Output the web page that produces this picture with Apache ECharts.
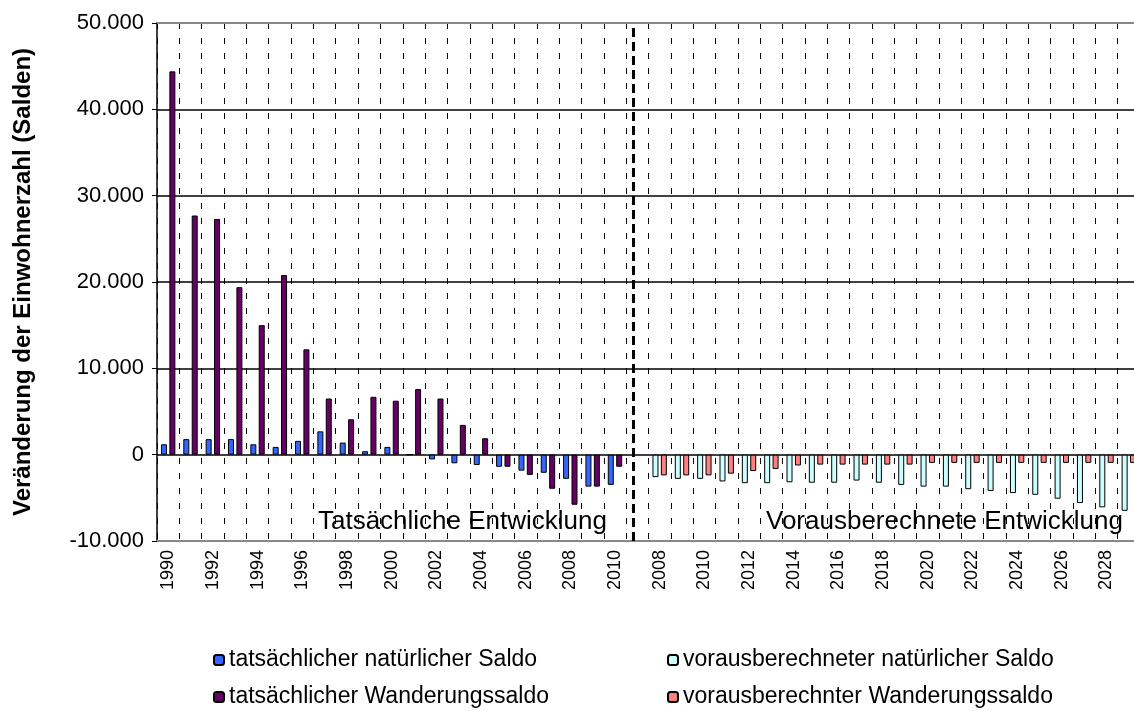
<!DOCTYPE html>
<html>
<head>
<meta charset="utf-8">
<script src="https://cdn.jsdelivr.net/npm/echarts@6/dist/echarts.min.js"></script>
<style>html,body{margin:0;padding:0;background:#fff}#c{width:1134px;height:711px}</style>
</head>
<body>
<div id="c"></div>
<script>
// ---- data ----
const actualYears = ['1990','1991','1992','1993','1994','1995','1996','1997','1998','1999','2000','2001','2002','2003','2004','2005','2006','2007','2008','2009','2010'];
const projYears = ['2008','2009','2010','2011','2012','2013','2014','2015','2016','2017','2018','2019','2020','2021','2022','2023','2024','2025','2026','2027','2028','2029'];
const natActual = [1200,1800,1800,1800,1200,900,1600,2700,1400,400,900,0,-550,-1000,-1200,-1400,-1850,-2100,-2800,-3700,-3500];
const wanActual = [44400,27700,27300,19400,15000,20800,12200,6500,4100,6700,6250,7600,6500,3450,1900,-1400,-2350,-3950,-5800,-3700,-1400];
const natProj = [-2600,-2800,-2800,-3100,-3300,-3300,-3200,-3250,-3250,-3000,-3250,-3500,-3700,-3700,-4000,-4200,-4450,-4650,-5100,-5600,-6100,-6500];
const wanProj = [-2400,-2400,-2400,-2200,-1900,-1650,-1250,-1150,-1150,-1150,-1150,-1150,-950,-950,-950,-950,-950,-950,-950,-950,-950,-950];
const seriesNames = ['tatsächlicher natürlicher Saldo','tatsächlicher Wanderungssaldo','vorausberechneter natürlicher Saldo','vorausberechnter Wanderungssaldo'];
const yAxisTitle = 'Veränderung der Einwohnerzahl (Salden)';
const sectionLabels = ['Tatsächliche Entwicklung','Vorausberechnete Entwicklung'];

// ---- build ----
const categories = [...actualYears, '', ...projYears];
const nulls = n => new Array(n).fill(null);
const natA = [...natActual, null, ...nulls(projYears.length)];
const wanA = [...wanActual, null, ...nulls(projYears.length)];
const natP = [...nulls(actualYears.length), null, ...natProj];
const wanP = [...nulls(actualYears.length), null, ...wanProj];
const sepIndex = actualYears.length;

const FONT = '"Liberation Sans", Arial, sans-serif';
const colors = ['#3366FF','#660066','#CCFFFF','#FF8080'];
function fmt(v){
  const s = String(Math.abs(v)).replace(/\B(?=(\d{3})+(?!\d))/g,'.');
  return (v < 0 ? '-' : '') + s;
}
function bar(name, data, stack, color){
  return {
    name, type:'bar', data, stack, barWidth:6, barGap:'40%',
    itemStyle:{color, borderColor:'#000', borderWidth:1},
    emphasis:{disabled:true}, animation:false
  };
}
function leg(name, left, top){
  return {
    data:[name], orient:'horizontal', left, top, padding:0,
    itemWidth:10, itemHeight:10, itemGap:0, selectedMode:false,
    textStyle:{fontSize:23, color:'#000', fontFamily:FONT, lineHeight:24}
  };
}
const chart = echarts.init(document.getElementById('c'));
const series = [
  bar(seriesNames[0], natA, 'nat', colors[0]),
  bar(seriesNames[1], wanA, 'wan', colors[1]),
  bar(seriesNames[2], natP, 'nat', colors[2]),
  bar(seriesNames[3], wanP, 'wan', colors[3])
];
series[0].markLine = {
  silent:true, symbol:['none','none'], label:{show:false},
  lineStyle:{color:'#000', width:3, type:[9,5]},
  data:[{xAxis: sepIndex}], animation:false
};
chart.setOption({
  animation:false,
  backgroundColor:'#fff',
  textStyle:{fontFamily:FONT},
  grid:{left:157, top:23, width:983, bottom:170, containLabel:false, outerBoundsMode:'none'},
  xAxis:[{
    type:'category', data:categories, position:'bottom',
    axisLine:{onZero:false, lineStyle:{color:'#888', width:2}},
    axisTick:{show:false},
    axisLabel:{interval:1, rotate:90, color:'#000', fontSize:18, fontFamily:FONT, margin:9},
    splitLine:{show:true, interval:0, lineStyle:{color:'#000', width:1, type:[6,9]}}
  },{
    type:'category', data:categories, position:'top',
    axisLine:{onZero:false, lineStyle:{color:'#888', width:2}},
    axisTick:{show:false}, axisLabel:{show:false}, splitLine:{show:false}
  }],
  yAxis:{
    type:'value', min:-10000, max:50000, interval:10000,
    name:yAxisTitle, nameLocation:'middle', nameGap:122,
    nameTextStyle:{fontSize:24, fontWeight:'bold', color:'#000', fontFamily:FONT},
    axisLine:{show:true, lineStyle:{color:'#000', width:1.5}},
    axisTick:{show:true, length:5, lineStyle:{color:'#000'}},
    axisLabel:{formatter:fmt, color:'#000', fontSize:22, fontFamily:FONT, margin:13},
    splitLine:{show:true, showMinLine:false, showMaxLine:false, lineStyle:{color:'#000', width:1.5}}
  },
  legend:[
    leg(seriesNames[0], 213, 648),
    leg(seriesNames[1], 213, 685),
    leg(seriesNames[2], 667, 648),
    leg(seriesNames[3], 667, 685)
  ],
  graphic:[
    {type:'text', x:607, y:522, silent:true, style:{text:sectionLabels[0], fill:'#000', font:'26px '+FONT, align:'right', verticalAlign:'middle'}},
    {type:'text', x:1123, y:522, silent:true, style:{text:sectionLabels[1], fill:'#000', font:'26px '+FONT, align:'right', verticalAlign:'middle'}}
  ],
  series
});
</script>
</body>
</html>
